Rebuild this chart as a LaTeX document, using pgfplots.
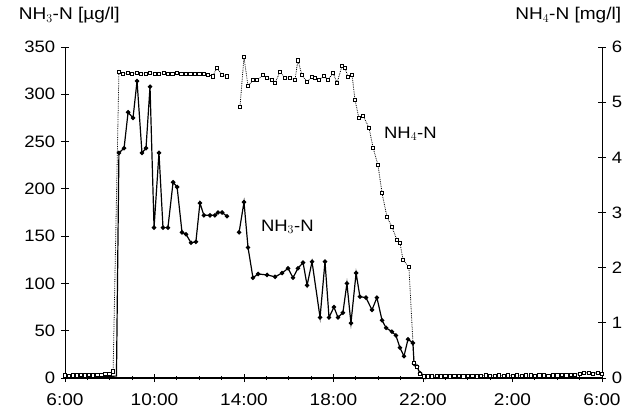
\documentclass[border=0pt]{standalone}
\usepackage{fontspec}
\setmainfont{Liberation Sans}[FakeStretch=1.12]
\usepackage{pgfplots}
\pgfplotsset{compat=1.18}
\begin{document}
\fontsize{17pt}{20pt}\selectfont
\begin{tikzpicture}
\pgfplotsset{
  nhthree/.style={black, line width=1.2pt, mark=*, mark size=1.6pt, mark options={solid,fill=black}},
  nhfour/.style={black, line width=0.8pt, densely dotted, mark=square*, mark size=1.6pt, mark options={solid,fill=white,line width=0.6pt}},
}
\begin{axis}[
  scale only axis, width=537pt, height=331pt,
  xmin=0, xmax=24, ymin=0, ymax=350,
  axis x line=bottom, axis y line=left,
  axis line style={-, line width=0.8pt},
  x axis line style={line width=1.1pt},
  xtick={0,4,...,24},
  xticklabels={6:00,10:00,14:00,18:00,22:00,2:00,6:00},
  minor xtick={1,2,3,5,6,7,9,10,11,13,14,15,17,18,19,21,22,23},
  ytick={0,50,...,350},
  tick align=center, major tick length=8pt, minor tick length=4pt,
  tick style={black, line width=0.8pt},
  /pgf/number format/assume math mode=true,
  yticklabel style={font=\fontsize{16.5pt}{19pt}\selectfont},
  xticklabel style={font=\fontsize{17pt}{20pt}\selectfont, yshift=-6pt},
  clip=false,
]
\addplot[black, line width=1.2pt] coordinates {(0,1) (2.3,2) (2.41,238)};
\addplot[nhthree] coordinates {
(2.41,238) (2.64,243) (2.82,281) (3.04,275) (3.22,314) (3.44,238) (3.62,243) (3.80,308)
(3.98,159) (4.20,238) (4.38,159) (4.60,159) (4.83,207) (5.01,202) (5.23,154) (5.41,152)
(5.63,143) (5.85,144) (6.03,185) (6.21,172) (6.48,172) (6.70,172) (6.84,175) (7.02,175) (7.24,171)};
\addplot[nhthree] coordinates {
(7.78,154) (8.00,186) (8.18,138) (8.40,106) (8.63,110) (9.03,109) (9.39,107) (9.70,111)
(9.97,116) (10.19,106) (10.41,116) (10.64,122) (10.82,98) (11.04,123) (11.40,64) (11.62,123)
(11.80,64) (12.02,75) (12.20,64) (12.42,69) (12.60,100) (12.78,58) (13.01,111) (13.18,86)
(13.45,85) (13.72,72) (13.94,85) (14.17,61) (14.35,53) (14.61,49) (14.79,45) (14.97,32)
(15.15,23) (15.33,41) (15.55,37) (15.60,15) (15.73,12) (15.87,5) (16.09,1)};
\node[anchor=west, font=\fontsize{16.5pt}{19pt}\selectfont] at (axis cs:8.5,160) {NH$_3$-N};
\node[anchor=west, font=\fontsize{16.5pt}{19pt}\selectfont] at (axis cs:14.0,258) {NH$_4$-N};
\end{axis}
\begin{axis}[
  scale only axis, width=537pt, height=331pt,
  xmin=0, xmax=24, ymin=0, ymax=6,
  axis x line=none, axis y line=right,
  axis line style={-, line width=0.9pt},
  ytick={0,1,...,6},
  tick align=center, major tick length=8pt,
  tick style={black, line width=0.8pt},
  /pgf/number format/assume math mode=true,
  yticklabel style={font=\fontsize{16.5pt}{19pt}\selectfont},
  clip=false,
]
\addplot[nhfour] coordinates {
(0,0.05) (0.18,0.04) (0.36,0.05) (0.54,0.05) (0.72,0.06) (0.90,0.05) (1.08,0.06) (1.26,0.05)
(1.44,0.06) (1.62,0.06) (1.80,0.07) (1.98,0.08) (2.15,0.12)
(2.41,5.55) (2.60,5.52) (2.80,5.53) (3.00,5.52) (3.20,5.53) (3.40,5.52) (3.60,5.52) (3.80,5.53)
(4.00,5.52) (4.20,5.52) (4.40,5.53) (4.60,5.51) (4.80,5.52) (5.00,5.53) (5.20,5.51) (5.40,5.52)
(5.60,5.52) (5.80,5.51) (6.00,5.52) (6.20,5.51) (6.40,5.50) (6.60,5.47) (6.79,5.62) (7.02,5.49) (7.24,5.47)};
\addplot[nhfour] coordinates {
(7.82,4.91) (8.00,5.82) (8.18,5.29) (8.40,5.40) (8.58,5.40) (8.85,5.49) (9.03,5.44) (9.25,5.40)
(9.39,5.35) (9.61,5.55) (9.83,5.44) (10.06,5.44) (10.28,5.40) (10.41,5.76) (10.59,5.49) (10.82,5.37)
(11.04,5.46) (11.17,5.44) (11.35,5.40) (11.58,5.48) (11.75,5.40) (11.98,5.53) (12.16,5.35) (12.38,5.66)
(12.51,5.62) (12.65,5.46) (12.83,5.49) (12.96,5.04) (13.14,4.71) (13.32,4.76) (13.59,4.53) (13.77,4.17)
(13.99,3.86) (14.17,3.35) (14.39,2.92) (14.61,2.74) (14.84,2.50) (14.97,2.45) (15.11,2.14) (15.37,2.01)
(15.60,0.27) (15.73,0.20) (15.87,0.08) (16.04,0.03)
(16.2,0.03) (16.4,0.03) (16.6,0.04) (16.8,0.03) (17.0,0.04) (17.2,0.03) (17.4,0.04) (17.6,0.04)
(17.8,0.03) (18.0,0.04) (18.2,0.04) (18.4,0.03) (18.6,0.04) (18.8,0.05) (19.0,0.04) (19.2,0.04)
(19.4,0.05) (19.6,0.04) (19.8,0.05) (20.0,0.04) (20.2,0.05) (20.4,0.04) (20.6,0.05) (20.8,0.05)
(21.0,0.04) (21.2,0.05) (21.4,0.05) (21.6,0.04) (21.8,0.05) (22.0,0.05) (22.2,0.06) (22.4,0.05)
(22.6,0.06) (22.8,0.06) (23.0,0.08) (23.2,0.10) (23.4,0.09) (23.6,0.08) (23.8,0.10) (24.0,0.08)};
\end{axis}
\node[anchor=base west] at (-52pt,358pt) {NH$_3$-N [µg/l]};
\node[anchor=base east] at (562pt,358pt) {NH$_4$-N [mg/l]};
\pgfresetboundingbox
\path[use as bounding box] (-65pt,-38pt) rectangle (573pt,378pt);
\end{tikzpicture}
\end{document}
